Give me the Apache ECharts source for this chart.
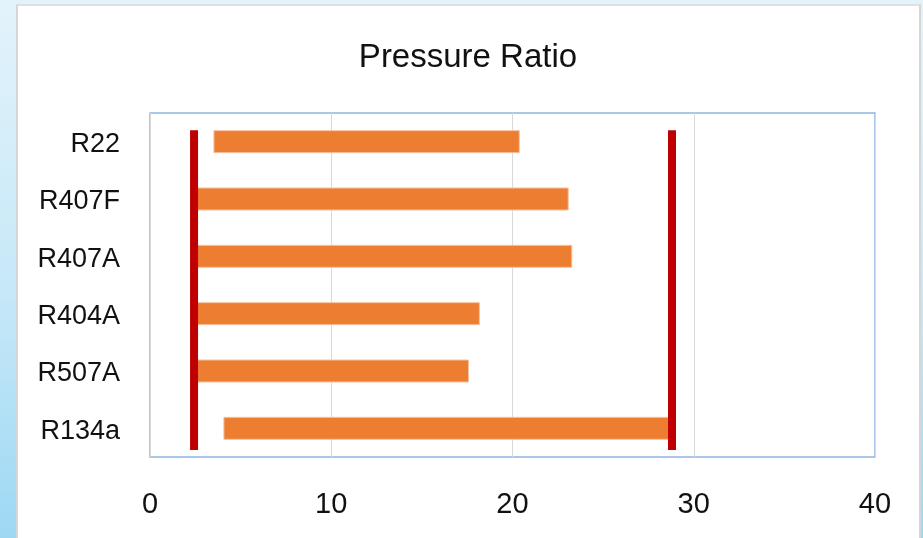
<!DOCTYPE html>
<html>
<head>
<meta charset="utf-8">
<title>Pressure Ratio</title>
<script src="https://cdn.jsdelivr.net/npm/echarts@6/dist/echarts.min.js"></script>
<style>
  html, body { margin: 0; padding: 0; width: 923px; height: 538px; overflow: hidden; }
  body { background: linear-gradient(to bottom, #e3f3fb 0%, #c6e8f8 55%, #9dd8f3 100%); position: relative; }
  #panel {
    position: absolute; left: 16px; top: 4px; width: 901px; height: 560px;
    background: #ffffff; border-left: 2px solid #d6d6d6; border-top: 2px solid #e0e0e0; border-right: 2px solid #d6d6d6;
  }
  #chart { position: absolute; left: 0; top: 0; width: 923px; height: 538px; }
</style>
</head>
<body>
<div id="panel"></div>
<div id="chart"></div>
<script>
// Refrigerants, listed top to bottom
const refrigerants = ['R22', 'R407F', 'R407A', 'R404A', 'R507A', 'R134a'];
// Pressure ratio range per refrigerant: lower and upper ends of each bar
const ratioLow  = [3.5, 2.5, 2.5, 2.5, 2.5, 4.05];
const ratioHigh = [20.4, 23.1, 23.3, 18.2, 17.6, 28.7];
// Compressor operating limits (vertical red markers)
const ratioLimits = [2.43, 28.8];
// Vertical extent of the limit markers on the hidden helper axis (0..6)
const limitSpan = [0.12, 5.7];
// Horizontal axis ticks
const xTicks = [0, 10, 20, 30, 40];

const FONT = 'Liberation Sans, Arial, sans-serif';

const rangeWidth = ratioHigh.map((h, i) => +(h - ratioLow[i]).toFixed(3));

const limitSeries = ratioLimits.map(v => ({
  type: 'line',
  xAxisIndex: 0,
  yAxisIndex: 1,
  symbol: 'none',
  silent: true,
  z: 5,
  lineStyle: { color: '#C00000', width: 8, cap: 'butt' },
  data: limitSpan.map(s => [v, s])
}));

const chart = echarts.init(document.getElementById('chart'), null, { renderer: 'canvas' });
chart.setOption({
  backgroundColor: 'transparent',
  animation: false,
  title: {
    text: 'Pressure Ratio',
    left: 463,
    top: 36,
    textAlign: 'center',
    textStyle: { fontFamily: FONT, fontSize: 33, fontWeight: 'normal', color: '#111' }
  },
  grid: {
    left: 150, right: 48, top: 113, bottom: 81,
    show: true, borderColor: '#8fb5e2', borderWidth: 1.5, backgroundColor: '#ffffff'
  },
  xAxis: {
    type: 'value',
    min: xTicks[0],
    max: xTicks[xTicks.length - 1],
    interval: xTicks[1] - xTicks[0],
    axisLine: { show: false },
    axisTick: { show: false },
    splitLine: { show: true, lineStyle: { color: '#d9d9d9', width: 1 } },
    axisLabel: { margin: 33, fontFamily: FONT, fontSize: 29, color: '#111' }
  },
  yAxis: [
    {
      type: 'category',
      data: refrigerants,
      inverse: true,
      axisLine: { show: false },
      axisTick: { show: false },
      splitLine: { show: false },
      axisLabel: {
        margin: 30,
        formatter: '{n|{value}}',
        rich: { n: { fontFamily: FONT, fontSize: 27, color: '#111', padding: [6, 0, 0, 0] } }
      }
    },
    {
      type: 'value',
      min: 0,
      max: 6,
      show: false
    }
  ],
  series: [
    {
      name: 'base',
      type: 'bar',
      stack: 'range',
      barWidth: 23,
      silent: true,
      itemStyle: { color: 'transparent' },
      data: ratioLow
    },
    {
      name: 'Pressure Ratio',
      type: 'bar',
      stack: 'range',
      barWidth: 23,
      itemStyle: { color: '#ED7D31', borderColor: '#f6c1a0', borderWidth: 1 },
      data: rangeWidth
    }
  ].concat(limitSeries)
});
</script>
</body>
</html>
